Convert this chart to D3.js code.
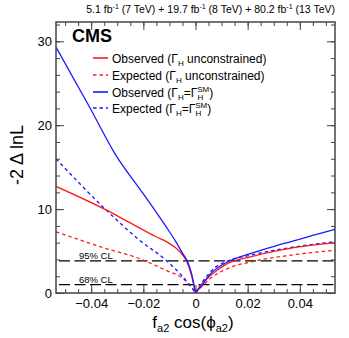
<!DOCTYPE html>
<html><head><meta charset="utf-8">
<script src="https://cdn.jsdelivr.net/npm/d3@7"></script>
<style>
body{margin:0;background:#fff}
text{font-family:"Liberation Sans",Arial,Helvetica,sans-serif;fill:#000}
</style></head>
<body><svg id="c" width="349" height="338"></svg>
<script>
// ---- data ----
const obsUncX = [-0.0535,-0.0343,-0.025,-0.0151,-0.011,-0.0075,-0.0055,-0.0036,-0.0017,0,0.002,0.0058,0.0122,0.021,0.034,0.0535];
const obsUncY = [12.7,9.9,8.35,6.7,6.1,5.35,4.75,3.9,2.3,0,0.9,2.1,3.5,4.3,5.2,6.0];
const expUncX = [-0.0535,-0.0343,-0.0215,-0.0113,-0.0049,-0.0017,0,0.0025,0.0058,0.0122,0.021,0.034,0.0535];
const expUncY = [7.3,5.3,4.1,2.7,1.75,0.75,0,0.8,1.75,2.9,3.7,4.4,5.1];
const obsSMX = [-0.0535,-0.0407,-0.0305,-0.0202,-0.0113,-0.0075,-0.0049,-0.003,-0.0015,0,0.0019,0.0058,0.0122,0.021,0.034,0.0535];
const obsSMY = [29.3,22.2,16.4,11.9,7.9,6.1,4.7,3.7,2.3,0,0.7,2.3,3.7,4.7,5.9,7.6];
const expSMX = [-0.0535,-0.0343,-0.0215,-0.0113,-0.0049,-0.0017,0,0.0032,0.007,0.0122,0.021,0.034,0.0535];
const expSMY = [16.0,9.9,6.3,3.9,1.95,0.75,0,1.55,2.9,3.8,4.5,5.3,6.1];
const clLevels = [1.0, 3.84];
const clLabels = ["68% CL", "95% CL"];
const xTicks = [-0.04,-0.02,0,0.02,0.04];
const xTickLabels = ["\u22120.04","\u22120.02","0","0.02","0.04"];
const yTicks = [0,10,20,30];
const yTickLabels = ["0","10","20","30"];
const legendNames = ["Observed","Expected","Observed","Expected"];
const xDomain = [-0.0535, 0.0535];
const yDomain = [0, 32.3];

// ---- layout ----
const svg = d3.select("#c");
const L=56, R=335, T=22, B=293;
const x = d3.scaleLinear().domain(xDomain).range([L,R]);
const y = d3.scaleLinear().domain(yDomain).range([B,T]);
const RED="#ff1a1a", BLUE="#1a1aff", AX="#444";

// axes (ticks inward)
function styleAxis(g){ g.select(".domain").remove(); g.selectAll(".tick line").attr("stroke",AX).attr("stroke-width",1); }
const xMinor = d3.range(-0.05,0.0501,0.005).map(v=>+v.toFixed(3));
const yMinor = d3.range(0,32.1,2);
svg.append("g").attr("transform",`translate(0,${B})`)
  .call(d3.axisBottom(x).tickValues(xMinor).tickSize(-4).tickFormat("")).call(styleAxis);
svg.append("g").attr("transform",`translate(0,${B})`)
  .call(d3.axisBottom(x).tickValues(xTicks).tickSize(-8).tickPadding(6).tickFormat((d,i)=>xTickLabels[i]))
  .call(styleAxis).selectAll("text").attr("font-size",13).attr("fill","#000");
svg.append("g").attr("transform",`translate(0,${T})`)
  .call(d3.axisTop(x).tickValues(xMinor).tickSize(-4).tickFormat("")).call(styleAxis);
svg.append("g").attr("transform",`translate(0,${T})`)
  .call(d3.axisTop(x).tickValues(xTicks).tickSize(-8).tickFormat("")).call(styleAxis);
svg.append("g").attr("transform",`translate(${L},0)`)
  .call(d3.axisLeft(y).tickValues(yMinor).tickSize(-4).tickFormat("")).call(styleAxis);
svg.append("g").attr("transform",`translate(${L},0)`)
  .call(d3.axisLeft(y).tickValues(yTicks).tickSize(-8).tickPadding(4).tickFormat((d,i)=>yTickLabels[i]))
  .call(styleAxis).selectAll("text").attr("font-size",13).attr("fill","#000");
svg.append("g").attr("transform",`translate(${R},0)`)
  .call(d3.axisRight(y).tickValues(yMinor).tickSize(-4).tickFormat("")).call(styleAxis);
svg.append("g").attr("transform",`translate(${R},0)`)
  .call(d3.axisRight(y).tickValues(yTicks).tickSize(-8).tickFormat("")).call(styleAxis);

// CL lines
svg.append("defs").append("clipPath").attr("id","cp").append("rect")
  .attr("x",L).attr("y",T).attr("width",R-L).attr("height",B-T);
clLevels.forEach((v,i)=>{
  svg.append("line").attr("x1",x(xDomain[0])).attr("x2",x(xDomain[1]))
    .attr("y1",y(v)).attr("y2",y(v)).attr("stroke","#000").attr("stroke-width",1.2)
    .attr("stroke-dasharray","11,4.5").attr("stroke-dashoffset",-3);
  svg.append("text").attr("x",x(-0.0447)).attr("y",y(v)-1.5).attr("font-size",9.5).text(clLabels[i]);
});

// curves
function drawSeries(xs, ys, color, dash){
  const pts = xs.map((v,i)=>[v,ys[i]]);
  const left = pts.filter(p=>p[0]<=0), right = pts.filter(p=>p[0]>=0);
  const line = d3.line().x(d=>x(d[0])).y(d=>y(d[1])).curve(d3.curveMonotoneX);
  [left,right].forEach(seg=>{
    svg.append("path").attr("d",line(seg)).attr("fill","none").attr("stroke",color)
      .attr("stroke-width",1.3).attr("stroke-dasharray",dash||null).attr("clip-path","url(#cp)");
  });
}
drawSeries(expUncX, expUncY, RED, "3.5,3");
drawSeries(expSMX, expSMY, BLUE, "3.5,3");
drawSeries(obsUncX, obsUncY, RED);
drawSeries(obsSMX, obsSMY, BLUE);

// frame
svg.append("rect").attr("x",L).attr("y",T).attr("width",R-L).attr("height",B-T)
  .attr("fill","none").attr("stroke",AX).attr("stroke-width",1.5);

// CMS label
svg.append("text").attr("x",72).attr("y",42).attr("font-size",18).attr("font-weight","bold").text("CMS");

// legend
const rowsY=[58,75,92,108];
const colors=[RED,RED,BLUE,BLUE];
const dashes=[null,"3.5,3",null,"3.5,3"];
rowsY.forEach((ry,i)=>{
  svg.append("line").attr("x1",93).attr("x2",108).attr("y1",ry).attr("y2",ry)
    .attr("stroke",colors[i]).attr("stroke-width",1.6).attr("stroke-dasharray",dashes[i]);
  const t = svg.append("text").attr("x",112).attr("y",ry+4.5).attr("font-size",12);
  t.append("tspan").text(legendNames[i]+" (\u0393");
  t.append("tspan").attr("font-size",8).attr("dy",3).text("H");
  if(i<2){
    t.append("tspan").attr("dy",-3).text(" unconstrained)");
  } else {
    t.append("tspan").attr("dy",-3).text("=\u0393");
    t.append("tspan").attr("font-size",8).attr("dy",3).text("H");
    t.append("tspan").attr("font-size",8).attr("dx",-6).attr("dy",-8).text("SM");
    t.append("tspan").attr("dy",5).text(")");
  }
});

// top lumi label
const lt = svg.append("text").attr("x",335).attr("y",13).attr("font-size",10.5).attr("text-anchor","end");
[["5.1 fb","-1"," (7 TeV) + 19.7 fb"],["","-1"," (8 TeV) + 80.2 fb"],["","-1"," (13 TeV)"]].forEach(p=>{
  if(p[0]) lt.append("tspan").text(p[0]);
  lt.append("tspan").attr("font-size",7).attr("dy",-4).text(p[1]);
  lt.append("tspan").attr("dy",4).text(p[2]);
});

// axis titles
svg.append("text").attr("transform","translate(23,155) rotate(-90)").attr("text-anchor","middle")
  .attr("font-size",18).text("-2 \u0394 lnL");
const xt = svg.append("text").attr("x",193).attr("y",328).attr("text-anchor","middle").attr("font-size",17);
xt.append("tspan").text("f");
xt.append("tspan").attr("font-size",11).attr("dy",4).text("a2");
xt.append("tspan").attr("dy",-4).text(" cos(\u03d5");
xt.append("tspan").attr("font-size",11).attr("dy",4).text("a2");
xt.append("tspan").attr("dy",-4).text(")");
</script></body></html>
